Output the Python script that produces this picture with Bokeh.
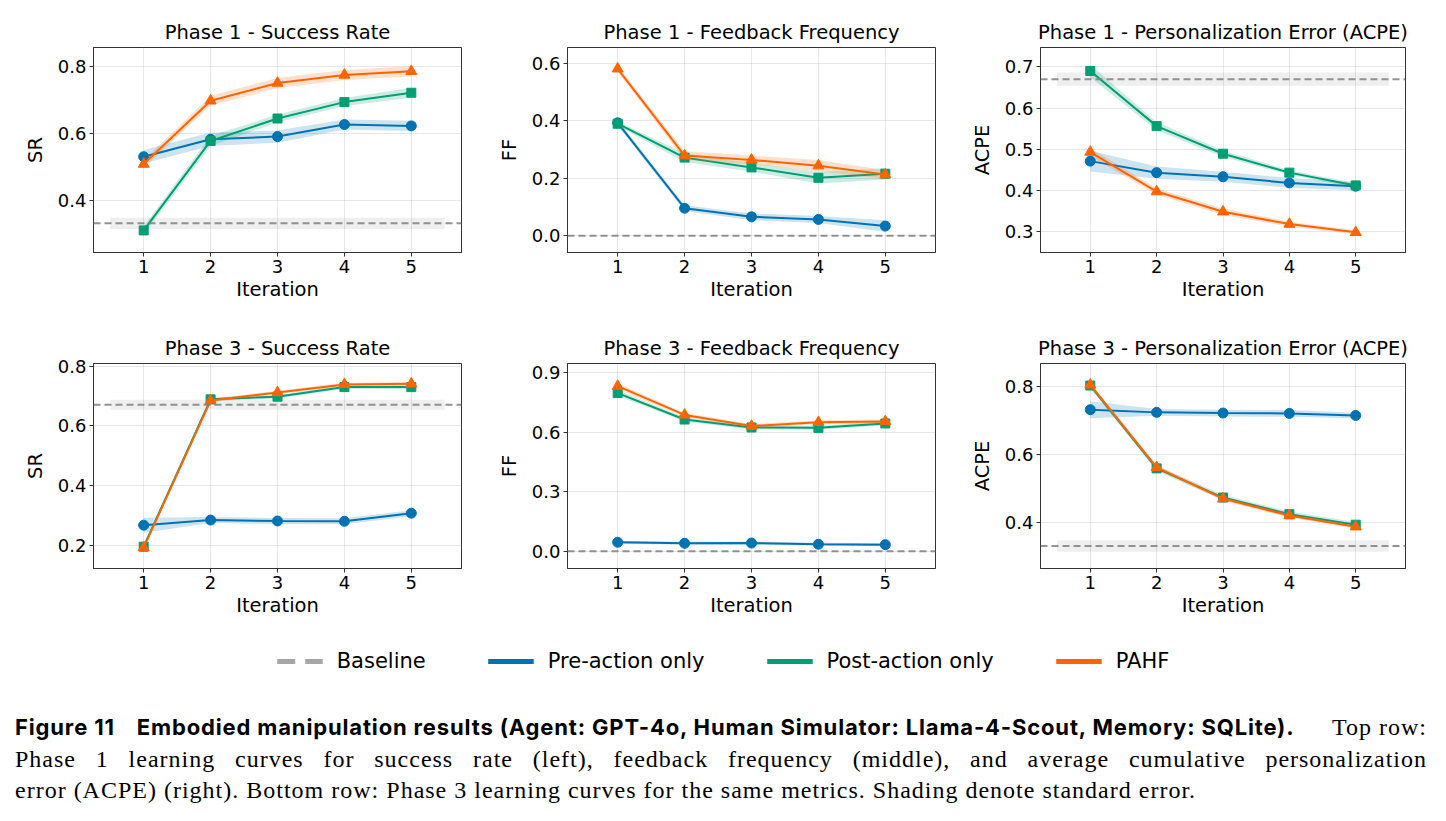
from bokeh.plotting import figure
from bokeh.models import (Range1d, FixedTicker, NumeralTickFormatter, Span,
                          Legend, LegendItem, Div)
from bokeh.layouts import column, row
from bokeh.embed import file_html
from bokeh.resources import INLINE

# ---------------- data ----------------
iterations = [1, 2, 3, 4, 5]
baseline_band_x = [0.5, 5.5]

# Phase 1 - Success Rate
p1_sr_pre = [0.530, 0.582, 0.590, 0.626, 0.622]
p1_sr_pre_se = [0.020, 0.020, 0.018, 0.015, 0.015]
p1_sr_post = [0.310, 0.577, 0.644, 0.693, 0.721]
p1_sr_post_se = [0.012, 0.015, 0.012, 0.012, 0.015]
p1_sr_pahf = [0.508, 0.697, 0.750, 0.774, 0.785]
p1_sr_pahf_se = [0.012, 0.015, 0.015, 0.015, 0.015]
p1_sr_base, p1_sr_base_se = 0.331, 0.017

# Phase 1 - Feedback Frequency
p1_ff_pre = [0.393, 0.096, 0.066, 0.057, 0.034]
p1_ff_pre_se = [0.010, 0.010, 0.012, 0.012, 0.020]
p1_ff_post = [0.390, 0.272, 0.238, 0.202, 0.216]
p1_ff_post_se = [0.008, 0.015, 0.015, 0.020, 0.020]
p1_ff_pahf = [0.581, 0.279, 0.264, 0.244, 0.213]
p1_ff_pahf_se = [0.010, 0.015, 0.015, 0.020, 0.015]
p1_ff_base, p1_ff_base_se = 0.0, 0.0

# Phase 1 - ACPE
p1_ac_pre = [0.471, 0.443, 0.433, 0.418, 0.410]
p1_ac_pre_se = [0.025, 0.015, 0.012, 0.012, 0.010]
p1_ac_post = [0.690, 0.556, 0.489, 0.443, 0.412]
p1_ac_post_se = [0.015, 0.010, 0.008, 0.006, 0.006]
p1_ac_pahf = [0.493, 0.397, 0.348, 0.318, 0.298]
p1_ac_pahf_se = [0.010, 0.008, 0.008, 0.006, 0.005]
p1_ac_base, p1_ac_base_se = 0.670, 0.016

# Phase 3 - Success Rate
p3_sr_pre = [0.268, 0.285, 0.282, 0.281, 0.308]
p3_sr_pre_se = [0.025, 0.010, 0.010, 0.010, 0.010]
p3_sr_post = [0.196, 0.689, 0.698, 0.730, 0.730]
p3_sr_post_se = [0.005, 0.006, 0.006, 0.006, 0.006]
p3_sr_pahf = [0.193, 0.685, 0.712, 0.739, 0.741]
p3_sr_pahf_se = [0.005, 0.006, 0.006, 0.006, 0.006]
p3_sr_base, p3_sr_base_se = 0.671, 0.017

# Phase 3 - Feedback Frequency
p3_ff_pre = [0.045, 0.040, 0.041, 0.035, 0.033]
p3_ff_pre_se = [0.008, 0.008, 0.008, 0.008, 0.008]
p3_ff_post = [0.796, 0.663, 0.623, 0.621, 0.643]
p3_ff_post_se = [0.015, 0.010, 0.010, 0.010, 0.010]
p3_ff_pahf = [0.831, 0.686, 0.630, 0.649, 0.653]
p3_ff_pahf_se = [0.015, 0.010, 0.010, 0.010, 0.010]
p3_ff_base, p3_ff_base_se = 0.0, 0.0

# Phase 3 - ACPE
p3_ac_pre = [0.733, 0.725, 0.723, 0.722, 0.716]
p3_ac_pre_se = [0.025, 0.010, 0.010, 0.010, 0.008]
p3_ac_post = [0.804, 0.560, 0.474, 0.425, 0.394]
p3_ac_post_se = [0.008, 0.008, 0.008, 0.008, 0.008]
p3_ac_pahf = [0.806, 0.563, 0.471, 0.421, 0.388]
p3_ac_pahf_se = [0.006, 0.006, 0.006, 0.006, 0.006]
p3_ac_base, p3_ac_base_se = 0.3315, 0.017

legend_labels = ["Baseline", "Pre-action only", "Post-action only", "PAHF"]
series_colors = ["#0072B2", "#009E73", "#FF6400"]
series_markers = ["circle", "square", "triangle"]
series_sizes = [10, 9, 11]
BASE_COLOR = "#808080"

FONT = "DejaVu Sans"


def make_panel(title, ylabel, series, base, base_se, yr, yticks, width,
               bl, br, bt, bb=64, height=316):
    p = figure(width=width, height=height, x_range=Range1d(0.25, 5.75),
               y_range=Range1d(*yr), output_backend="svg",
               toolbar_location=None, min_border_left=bl,
               min_border_right=br, min_border_top=bt, min_border_bottom=bb,
               title=title)
    p.title.align = "center"
    p.title.text_font = FONT
    p.title.text_font_size = "19.5px"
    p.title.text_font_style = "normal"
    p.title.text_color = "#000000"
    p.title.standoff = 7
    p.outline_line_color = "#333333"
    p.outline_line_width = 1
    p.outline_line_alpha = 1
    p.xaxis.ticker = FixedTicker(ticks=iterations)
    p.yaxis.ticker = FixedTicker(ticks=yticks)
    p.yaxis.formatter = NumeralTickFormatter(format="0.0")
    p.xaxis.axis_label = "Iteration"
    p.yaxis.axis_label = ylabel
    for ax in (p.xaxis, p.yaxis):
        ax.axis_label_text_font = FONT
        ax.axis_label_text_font_size = "19.5px"
        ax.axis_label_text_font_style = "normal"
        ax.axis_label_text_color = "#000000"
        ax.major_label_text_font = FONT
        ax.major_label_text_font_size = "18px"
        ax.major_label_text_color = "#000000"
        ax.minor_tick_line_color = None
        ax.major_tick_in = 0
        ax.major_tick_out = 4
        ax.major_tick_line_color = "#333333"
        ax.axis_line_color = "#333333"
        ax.major_label_standoff = 3
    p.xaxis.axis_label_standoff = 2
    p.yaxis.axis_label_standoff = 8
    p.xgrid.ticker = FixedTicker(ticks=iterations)
    p.ygrid.ticker = FixedTicker(ticks=yticks)
    p.grid.grid_line_color = "#b0b0b0"
    p.grid.grid_line_alpha = 0.3
    p.grid.grid_line_width = 1

    # baseline
    if base_se > 0:
        p.varea(x=baseline_band_x, y1=[base - base_se] * 2,
                y2=[base + base_se] * 2, fill_color=BASE_COLOR,
                fill_alpha=0.13)
    p.add_layout(Span(location=base, dimension="width",
                      line_color=BASE_COLOR, line_alpha=0.85,
                      line_width=2, line_dash="7 4"))

    for (y, se), color, marker, size in zip(series, series_colors,
                                            series_markers, series_sizes):
        lo = [a - b for a, b in zip(y, se)]
        hi = [a + b for a, b in zip(y, se)]
        p.varea(x=iterations, y1=lo, y2=hi, fill_color=color, fill_alpha=0.2)
        p.line(iterations, y, line_color=color, line_width=2)
        p.scatter(iterations, y, marker=marker, size=size, fill_color=color,
                  line_color=color)
    return p


f1 = make_panel("Phase 1 - Success Rate", "SR",
                [(p1_sr_pre, p1_sr_pre_se), (p1_sr_post, p1_sr_post_se),
                 (p1_sr_pahf, p1_sr_pahf_se)],
                p1_sr_base, p1_sr_base_se, (0.244, 0.856), [0.4, 0.6, 0.8],
                474, 93, 13, 43)
f2 = make_panel("Phase 1 - Feedback Frequency", "FF",
                [(p1_ff_pre, p1_ff_pre_se), (p1_ff_post, p1_ff_post_se),
                 (p1_ff_pahf, p1_ff_pahf_se)],
                p1_ff_base, p1_ff_base_se, (-0.058, 0.655),
                [0.0, 0.2, 0.4, 0.6], 474, 93, 13, 43)
f3 = make_panel("Phase 1 - Personalization Error (ACPE)", "ACPE",
                [(p1_ac_pre, p1_ac_pre_se), (p1_ac_post, p1_ac_post_se),
                 (p1_ac_pahf, p1_ac_pahf_se)],
                p1_ac_base, p1_ac_base_se, (0.249, 0.747),
                [0.3, 0.4, 0.5, 0.6, 0.7], 498, 92, 41, 47)
f4 = make_panel("Phase 3 - Success Rate", "SR",
                [(p3_sr_pre, p3_sr_pre_se), (p3_sr_post, p3_sr_post_se),
                 (p3_sr_pahf, p3_sr_pahf_se)],
                p3_sr_base, p3_sr_base_se, (0.123, 0.809),
                [0.2, 0.4, 0.6, 0.8], 474, 93, 13, 43)
f5 = make_panel("Phase 3 - Feedback Frequency", "FF",
                [(p3_ff_pre, p3_ff_pre_se), (p3_ff_post, p3_ff_post_se),
                 (p3_ff_pahf, p3_ff_pahf_se)],
                p3_ff_base, p3_ff_base_se, (-0.087, 0.945),
                [0.0, 0.3, 0.6, 0.9], 474, 93, 13, 43)
f6 = make_panel("Phase 3 - Personalization Error (ACPE)", "ACPE",
                [(p3_ac_pre, p3_ac_pre_se), (p3_ac_post, p3_ac_post_se),
                 (p3_ac_pahf, p3_ac_pahf_se)],
                p3_ac_base, p3_ac_base_se, (0.265, 0.869),
                [0.4, 0.6, 0.8], 498, 92, 41, 47)

# ---------------- legend (own strip; its renderers hold real series data
# but the strip's ranges keep them out of view, so only the legend shows) ----
lf = figure(width=1446, height=58, x_range=Range1d(-10, -9),
            y_range=Range1d(-10, -9), output_backend="svg",
            toolbar_location=None, min_border=0,
            x_axis_location=None, y_axis_location=None)
lf.grid.visible = False
lf.outline_line_color = None
rb = lf.line(iterations, [p1_sr_base] * len(iterations),
             line_color=BASE_COLOR, line_alpha=0.7, line_width=5,
             line_dash="18 10")
items = [LegendItem(label=legend_labels[0], renderers=[rb])]
for lab, col, ys in zip(legend_labels[1:], series_colors,
                        [p1_sr_pre, p1_sr_post, p1_sr_pahf]):
    r = lf.line(iterations, ys, line_color=col, line_width=5)
    items.append(LegendItem(label=lab, renderers=[r]))
legend = Legend(items=items, orientation="horizontal", location="center",
                glyph_width=46, glyph_height=20, label_standoff=14, spacing=62,
                padding=0, margin=0, border_line_color=None,
                background_fill_alpha=0, label_text_font=FONT,
                label_text_font_size="21px", label_text_color="#000000",
                label_height=20)
lf.add_layout(legend, "center")

# ---------------- caption ----------------
serif = ("font-family:'Liberation Serif',serif;font-size:24px;"
         "letter-spacing:1px;")
caption_html = (
    "<div style='width:1412px;margin-left:15px;padding-top:22px;"
    "line-height:31.5px;color:#000;'>"
    "<div style='display:flex;justify-content:space-between;"
    "align-items:baseline;'>"
    "<span style=\"font-family:'Inter',sans-serif;font-weight:bold;"
    "font-size:22px;letter-spacing:0.85px;\">"
    "<span style='margin-right:22px;'>Figure 11</span>"
    "Embodied manipulation results (Agent: GPT-4o, Human "
    "Simulator: Llama-4-Scout, Memory: SQLite).</span>"
    "<span style=\"" + serif + "\">Top row:</span></div>"
    "<div style=\"text-align:justify;text-align-last:justify;" + serif + "\">"
    "Phase 1 learning curves for success rate (left), feedback frequency "
    "(middle), and average cumulative personalization</div>"
    "<div style=\"" + serif + "\">error (ACPE) (right). Bottom row: Phase 3 "
    "learning curves for the same metrics. Shading denote standard error.</div>"
    "</div>"
)
cap = Div(text=caption_html, width=1446, height=130, margin=0)

layout = column(row(f1, f2, f3), row(f4, f5, f6), lf, cap)

open("out.html", "w").write(file_html(layout, INLINE))
